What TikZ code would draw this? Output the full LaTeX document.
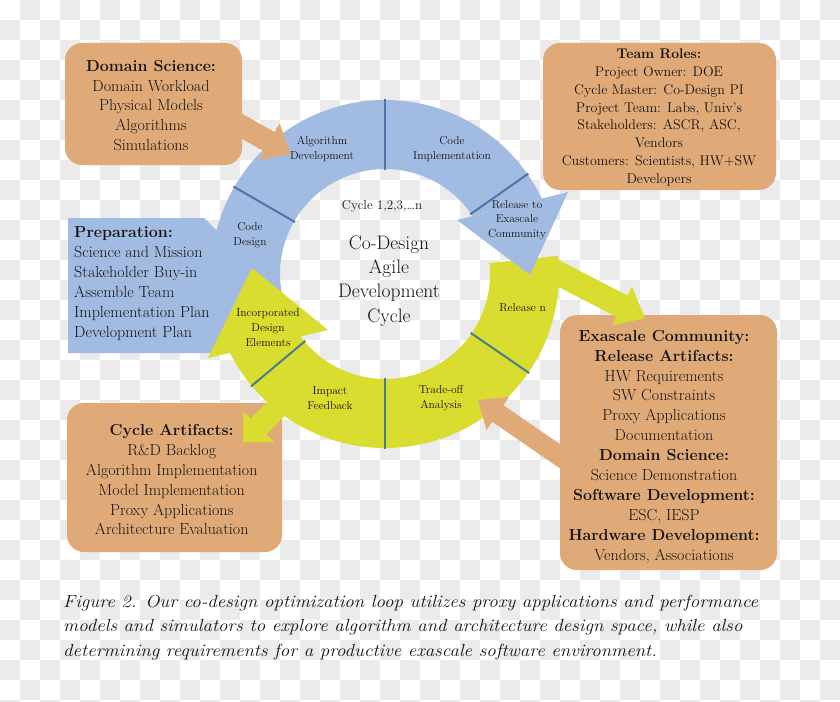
\documentclass[tikz,border=0pt]{standalone}
\usetikzlibrary{calc}
\definecolor{orangebox}{HTML}{E0AA78}
\definecolor{ringblue}{HTML}{A2BBE2}
\definecolor{ringyellow}{HTML}{D8DD2F}
\definecolor{checkgray}{HTML}{EBEBEB}
\definecolor{bluediv}{HTML}{4F74A8}
\definecolor{yellowdiv}{HTML}{4C7D8E}
\definecolor{inkc}{HTML}{151515}
% block arrow: start, tip, half shaft, half head, head length, colour
\newcommand{\myblockarrow}[6]{%
  \coordinate (ba-h) at ($(#2)!#5!(#1)$);
  \fill[#6] ($(#1)!#3!90:(#2)$) -- ($(ba-h)!#3!-90:(#1)$) -- ($(ba-h)!#4!-90:(#1)$)
    -- (#2) -- ($(ba-h)!#4!90:(#1)$) -- ($(ba-h)!#3!90:(#1)$) -- ($(#1)!#3!-90:(#2)$) -- cycle;}
\begin{document}
\begin{tikzpicture}[x=1pt,y=1pt,
  obox/.style={rectangle, rounded corners=17pt, fill=orangebox, draw=none, inner sep=0pt},
  btext/.style={align=center, text=inkc, inner sep=0pt, font=\fontsize{16}{19.9}\selectfont},
  ttext/.style={align=center, text=inkc, inner sep=0pt, font=\fontsize{14}{17.9}\selectfont},
  rlab/.style={align=center, text=inkc, inner sep=0pt, font=\fontsize{11.5}{14.7}\selectfont},
  bdiv/.style={draw=bluediv, line width=2pt},
  ydiv/.style={draw=yellowdiv, line width=2pt}]
\useasboundingbox (0,0) rectangle (840,-701);
% checkerboard background
\begin{scope}
\clip (0,0) rectangle (840,-701);
\fill[white] (0,0) rectangle (840,-701);
\foreach \i in {0,...,41}{\foreach \j in {0,...,35}{
  \pgfmathtruncatemacro\k{\i+\j}
  \ifodd\k \fill[checkgray] (20*\i,-20*\j) rectangle ++(20,-20); \fi }}
\end{scope}
\coordinate (C) at (385,-274);
% orange boxes
\node[obox, minimum width=177pt, minimum height=122pt] (domainbox) at (153.5,-104) {};
\node[obox, minimum width=233pt, minimum height=147pt] (teambox) at (659.5,-116.5) {};
\node[obox, minimum width=217pt, minimum height=255pt] (exabox) at (668.5,-442.5) {};
\node[obox, minimum width=215pt, minimum height=149pt] (cyclebox) at (174.5,-477.5) {};
% yellow band
\fill[ringyellow] ($(C)+(6:174pt)$) arc[start angle=6, end angle=-154, radius=174pt]
  -- ($(C)+(-146:105pt)$) arc[start angle=-146, end angle=6, radius=105pt] -- cycle;
% yellow branch arrows
\coordinate (yb1s) at (548,-268); \coordinate (yb1t) at (645,-318);
\myblockarrow{yb1s}{yb1t}{12pt}{22pt}{26pt}{ringyellow}
\coordinate (yb2s) at (293,-392); \coordinate (yb2t) at (243,-442);
\myblockarrow{yb2s}{yb2t}{11pt}{22pt}{22pt}{ringyellow}
% blue band, head and preparation box
\fill[ringblue] ($(C)+(200:174pt)$) arc[start angle=200, end angle=25.7, radius=174pt]
  -- ($(C)+(33.5:105pt)$) arc[start angle=33.5, end angle=200, radius=105pt] -- cycle;
\coordinate (bh1) at (457,-220); \coordinate (bh2) at (568,-192); \coordinate (bht) at (530,-275);
\fill[ringblue] (bh1) -- (bh2) -- (bht) -- cycle;
\fill[ringblue] (68,-218) -- (204,-218) -- (224,-238) -- (224,-353) -- (68,-353) -- cycle;
% yellow head
\coordinate (yh1) at (208,-358); \coordinate (yh2) at (328,-330); \coordinate (yht) at (252,-268);
\fill[ringyellow] (yh1) -- (yh2) -- (yht) -- cycle;
% dividers
\draw[bdiv] ($(C)+(150:104pt)$) -- ($(C)+(150:175pt)$);
\draw[bdiv] ($(C)+(90:104pt)$) -- ($(C)+(90:175pt)$);
\draw[bdiv] ($(C)+(35:104pt)$) -- ($(C)+(35:175pt)$);
\draw[ydiv] ($(C)+(220:104pt)$) -- ($(C)+(220:175pt)$);
\draw[ydiv] ($(C)+(270:104pt)$) -- ($(C)+(270:175pt)$);
\draw[ydiv] ($(C)+(325.5:104pt)$) -- ($(C)+(325.5:175pt)$);
% orange arrows
\coordinate (oa1s) at (222,-115); \coordinate (oa1t) at (291,-154);
\myblockarrow{oa1s}{oa1t}{11pt}{21pt}{25pt}{orangebox}
\coordinate (oa2s) at (580,-470); \coordinate (oa2t) at (478,-400);
\myblockarrow{oa2s}{oa2t}{10pt}{20pt}{24pt}{orangebox}
% box texts
\node[btext] (domaintext) at (151,-105.5) {\textbf{Domain Science:}\\Domain Workload\\Physical Models\\Algorithms\\Simulations};
\node[ttext] (teamtext) at (659,-117.5) {\textbf{Team Roles:}\\Project Owner: DOE\\Cycle Master: Co-Design PI\\Project Team: Labs, Univ’s\\Stakeholders: ASCR, ASC,\\Vendors\\Customers: Scientists, HW+SW\\Developers};
\node[btext] (exatext) at (664,-446.7) {\textbf{Exascale Community:}\\\textbf{Release Artifacts:}\\HW Requirements\\SW Constraints\\Proxy Applications\\Documentation\\\textbf{Domain Science:}\\Science Demonstration\\\textbf{Software Development:}\\ESC, IESP\\\textbf{Hardware Development:}\\Vendors, Associations};
\node[btext] (cycletext) at (171.7,-479.7) {\textbf{Cycle Artifacts:}\\R\&D Backlog\\Algorithm Implementation\\Model Implementation\\Proxy Applications\\Architecture Evaluation};
\node[btext, align=left, anchor=west] (preptext) at (74,-283.7) {\textbf{Preparation:}\\Science and Mission\\Stakeholder Buy-in\\Assemble Team\\Implementation Plan\\Development Plan};
% ring labels
\node[rlab] (lalg) at (322,-149) {Algorithm\\Development};
\node[rlab] (limp) at (452,-149) {Code\\Implementation};
\node[rlab] (lrel) at (517,-220) {Release to\\Exascale\\Community};
\node[rlab] (lcd) at (250,-235) {Code\\Design};
\node[rlab] (linc) at (268,-327.5) {Incorporated\\Design\\Elements};
\node[rlab] (limpact) at (330,-398) {Impact\\Feedback};
\node[rlab] (ltrade) at (441,-398) {Trade-off\\Analysis};
\node[rlab] (lreln) at (522.7,-308) {Release n};
\node[text=inkc, inner sep=0pt, font=\fontsize{13}{15}\selectfont] (cyc) at (382,-206) {Cycle 1,2,3,…n};
\node[align=center, text=inkc, inner sep=0pt, font=\fontsize{19.5}{24.2}\selectfont] (title) at (389,-281) {Co-Design\\Agile\\Development\\Cycle};
% caption
\node[anchor=north west, align=left, text=inkc, inner sep=0pt, xscale=1.08, transform shape, font=\itshape\fontsize{17.5}{24.5}\selectfont] (caption) at (63,-594.5) {Figure 2. Our co-design optimization loop utilizes proxy applications and performance\\models and simulators to explore algorithm and architecture design space, while also\\determining requirements for a productive exascale software environment.};
\end{tikzpicture}
\end{document}
